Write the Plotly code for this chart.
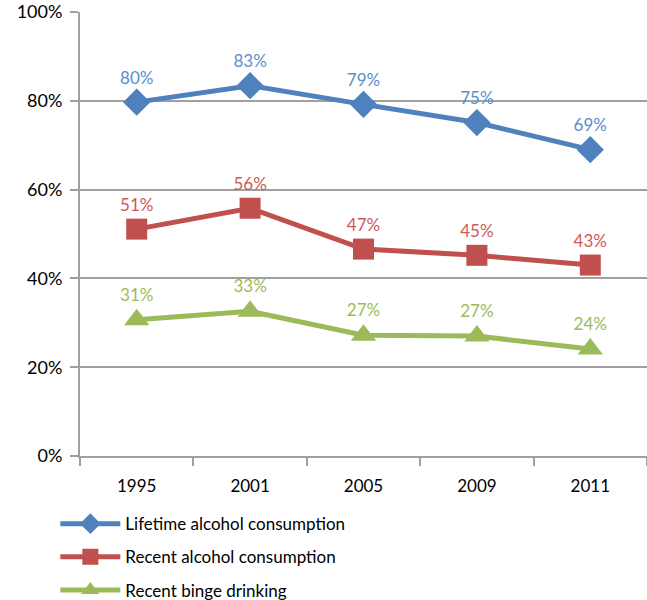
import plotly.graph_objects as go

years = ["1995", "2001", "2005", "2009", "2011"]
lifetime = [79.7, 83.4, 79.2, 75.1, 69.0]
recent = [51.1, 55.8, 46.6, 45.2, 43.0]
binge = [30.7, 32.6, 27.2, 27.0, 24.1]
names = ["Lifetime alcohol consumption", "Recent alcohol consumption", "Recent binge drinking"]
line_colors = ["#4F81BD", "#C0504D", "#9BBB59"]
text_colors = ["#5B8FCC", "#CC5A55", "#9BBB59"]
symbols = ["diamond", "square", "triangle-up"]
sizes = [21, 21, 22]

fig = go.Figure()
for i, vals in enumerate([lifetime, recent, binge]):
    fig.add_trace(go.Scatter(
        x=years, y=vals, name=names[i], mode="lines+markers+text",
        line=dict(color=line_colors[i], width=5),
        marker=dict(symbol=symbols[i], size=sizes[i], color=line_colors[i]),
        text=[f"{round(v)}%" for v in vals], textposition="top center",
        textfont=dict(color=text_colors[i], size=17, family="Lato, sans-serif"),
        legendgroup=str(i), cliponaxis=False,
    ))

fig.update_layout(
    width=647, height=600,
    margin=dict(l=80, r=0, t=12, b=144, autoexpand=False),
    plot_bgcolor="white", paper_bgcolor="white",
    font=dict(family="Lato, sans-serif", size=17, color="#000"),
    showlegend=True,
    legend=dict(x=-0.0435, y=-0.113, xanchor="left", yanchor="top",
                tracegroupgap=8, itemwidth=60,
                font=dict(size=17, color="#000")),
)
fig.update_xaxes(type="category", showline=True, linecolor="#A0A0A0", linewidth=2,
                 ticks="outside", tickson="boundaries", ticklen=8, tickcolor="#A0A0A0",
                 tickwidth=2, showgrid=False, range=[-0.5, 4.5], automargin=False,
                 ticklabelstandoff=14)
fig.update_yaxes(range=[0, 100], dtick=20, ticksuffix="%", showline=True, linecolor="#A0A0A0",
                 linewidth=2, ticks="outside", ticklen=8, tickcolor="#A0A0A0", tickwidth=2,
                 showgrid=True, gridcolor="#A0A0A0", gridwidth=2, zeroline=False,
                 automargin=False, ticklabelstandoff=4, tickfont=dict(size=18))

fig.write_html("out.html", config={"displayModeBar": False},
               post_script="document.body.style.margin='0';")
